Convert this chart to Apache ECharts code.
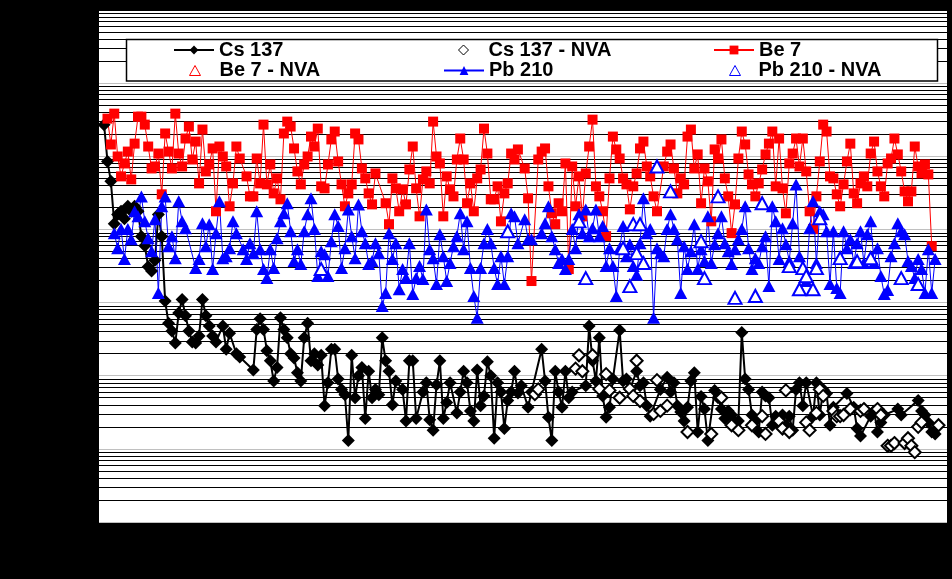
<!DOCTYPE html>
<html>
<head>
<meta charset="utf-8">
<script src="https://cdn.jsdelivr.net/npm/echarts@6/dist/echarts.min.js"></script>
<style>html,body{margin:0;padding:0;background:#000;}#c{width:952px;height:579px;}</style>
</head>
<body>
<div id="c"></div>
<script>
// Sample slots (shared category axis)
const categories = [];
for (let i = 1; i <= 250; i++) categories.push(String(i));

// Cs 137 (valid samples)
const cs137 = [
 null,2700,850,454,120,160,177,140,207,177,
 207,177,80,60,31,27,38,160,80,10.5,
 5.2,4.1,2.8,7.2,11,6.6,4.1,2.9,2.8,3.5,
 11,6.6,4.8,3.5,2.9,null,4.8,2.3,3.8,null,
 2.0,1.8,null,null,null,1.2,4.3,6.0,4.3,2.2,
 1.6,0.85,1.3,6.2,4.3,3.3,2.0,1.75,1.1,0.85,
 3.3,5.2,1.6,2.0,1.4,1.9,0.39,0.8,2.3,2.3,
 0.9,0.65,0.55,0.13,1.9,0.5,1.0,1.3,0.26,1.15,
 0.5,0.65,0.55,3.3,1.6,1.15,0.4,0.85,null,0.65,
 0.24,1.6,1.6,0.26,null,0.6,0.8,0.25,0.18,0.75,
 1.6,0.26,0.43,0.8,null,0.31,0.6,1.15,0.8,0.33,
 0.24,1.2,0.39,0.53,1.55,1.0,0.14,0.8,0.6,0.19,
 0.46,0.6,1.15,0.58,0.73,null,0.37,0.6,null,null,
 2.3,0.85,0.27,0.13,1.15,0.6,0.37,1.15,0.5,0.6,
 null,null,null,0.73,4.8,1.6,0.85,3.3,0.53,0.27,
 0.37,0.9,null,4.2,0.85,0.9,0.65,null,1.15,0.73,
 0.8,0.39,0.28,null,null,0.65,null,0.95,0.6,0.8,
 0.39,0.32,0.24,0.37,0.85,1.1,0.17,0.52,0.35,0.13,
 null,0.63,0.5,0.35,0.26,0.33,0.29,0.23,0.24,3.9,
 0.9,0.65,0.29,0.24,0.17,0.6,0.53,0.5,0.21,0.28,
 null,0.29,0.21,0.28,0.18,0.65,0.8,0.39,0.8,null,
 0.28,0.8,0.29,0.65,0.57,0.21,0.37,null,null,null,
 0.57,null,0.37,0.19,0.15,null,null,0.28,0.33,0.17,
 0.23,0.29,null,null,null,0.35,0.29,null,null,null,
 null,0.46,0.33,0.29,0.23,0.17,0.16,null,null,null
];

// Cs 137 - NVA (slot, value)
const cs137NvaSlot = [128,129,140,141,142,145,147,149,150,153,156,157,158,159,163,164,165,167,173,180,183,186,188,192,195,196,200,201,202,203,208,209,211,212,213,216,217,218,219,221,224,225,229,230,232,233,234,237,238,239,240,241,242,247];
const cs137NvaVal  = [0.56,0.65,1.25,1.9,1.15,1.9,0.66,1.05,0.63,0.5,0.66,0.53,1.6,0.45,0.3,0.87,0.33,0.39,0.17,0.16,0.5,0.21,0.18,0.21,0.28,0.16,0.24,0.19,0.63,0.17,0.23,0.18,0.31,0.65,0.53,0.33,0.28,0.28,0.29,0.35,0.33,0.35,0.35,0.29,0.11,0.11,0.12,0.12,0.14,0.11,0.09,0.2,0.23,0.21];

// Be 7
const be7 = [
 null,null,3270,1450,3830,994,531,798,1160,483,
 1490,3480,3480,2710,1360,682,726,1090,302,2050,
 1160,682,3830,1090,726,1750,2550,904,1590,426,
 2320,621,773,1280,177,1360,994,726,207,426,
 1360,933,null,531,283,283,933,426,2710,413,
 773,311,499,258,2050,2980,2550,1280,621,413,
 773,994,1860,1360,2390,388,364,773,1700,2180,
 849,413,207,311,413,2050,1700,682,499,311,
 220,583,null,null,228,118,499,364,177,353,
 220,661,1360,364,151,483,621,426,2980,994,
 798,151,531,353,283,904,1750,904,228,426,
 177,499,661,2390,1090,258,258,388,129,311,
 426,1090,904,1240,null,682,266,19.7,null,904,
 1160,1280,388,166,118,228,177,798,28.7,726,
 207,531,151,583,1360,3170,388,283,177,81,
 499,1860,1240,933,499,413,188,388,583,1280,
 1590,726,531,283,177,null,726,1160,1450,682,
 311,499,413,1860,2320,682,1060,228,682,454,
 129,1240,933,1700,499,283,89,220,933,2180,
 1450,565,413,283,426,661,1060,1490,2180,388,
 1750,364,166,798,1090,1750,726,1750,621,177,
 101,283,849,2710,2180,531,499,302,207,413,
 849,1490,311,228,426,531,388,1090,1590,621,
 388,283,798,933,1750,1060,621,331,242,331,
 1360,726,583,773,565,59,null,null,null,null
];

// Be 7 - NVA (no points in this period)
const be7NvaSlot = [];
const be7NvaVal = [];

// Pb 210
const pb210 = [
 null,null,null,null,88.7,55.4,101,39.3,101,73.5,
 177,151,283,129,75.8,50.5,138,13.5,207,283,
 59,80.8,40.5,242,129,104,null,null,29.6,39.3,
 121,59,118,28.7,88.7,242,40.5,43.1,55.4,129,
 88.7,null,53.7,39.3,64.9,47.4,177,53.7,28.7,21.6,
 53.7,29.6,75.8,129,166,228,94.5,36.9,53.7,33.6,
 94.5,161,266,101,23,50.5,45.9,23,69.1,161,
 111,29.6,55.4,188,80.8,40.5,220,94.5,64.9,33.6,
 36.9,64.9,47.4,9.0,13.5,88.7,39.3,64.9,15.2,28.7,
 21.6,64.9,13.1,21.6,31.5,21,188,53.7,40.5,17.9,
 86,43.1,19.7,34.7,59,80.8,166,53.7,129,29.6,
 12.3,6.2,29.6,64.9,101,64.9,29.6,17.9,43.1,17.9,
 43.1,166,151,64.9,null,138,73.5,73.5,null,null,
 88.7,121,207,80.8,53.7,34.7,39.3,28.7,39.3,101,
 55.4,161,88.7,188,80.8,104,188,80.8,111,31.5,
 55.4,31.5,12.3,55.4,111,43.1,62.8,31.5,24,64.9,
 266,88.7,101,6.2,55.4,47.4,43.1,101,161,101,
 73.5,13.5,59,28.7,50.5,118,28.7,53.7,36.9,151,
 34.7,62.8,88.7,151,64.9,50.5,33.6,53.7,73.5,101,
 207,55.4,28.7,40.5,34.7,59,80.8,16.8,207,129,
 39.3,104,62.8,36.9,121,413,43.1,null,19.7,104,
 242,34.7,177,161,94.5,17.9,94.5,15.8,13.5,94.5,
 55.4,73.5,34.7,64.9,94.5,34.7,86,129,34.7,55.4,
 23,13.1,14.8,43.1,64.9,121,94.5,86,36.9,31.5,
 21.6,39.3,28.7,13.5,53.7,13.5,39.3,null,null,null
];

// Pb 210 - NVA (slot, value)
const pb210NvaSlot = [65,120,141,143,154,156,157,158,159,160,164,168,177,178,182,187,193,195,203,206,207,208,210,211,212,218,223,227,236,241];
const pb210NvaVal  = [28.7,94.5,129,21.6,55.4,16.8,118,47.4,118,34.7,726,331,69.1,21.6,283,11.6,12.3,228,31.5,15.2,29.6,23,15.2,29.6,142,40.5,36.9,40.5,21.6,17.9];

const seriesNames = ['Cs 137','Cs 137 - NVA','Be 7','Be 7 - NVA','Pb 210','Pb 210 - NVA'];
const yMin = 0.01, yMax = 100000;

function pairs(slots, vals) { return slots.map((s, j) => [s, vals[j]]); }

// log-paper grid lines (1..9 x each decade)
const gridLines = [];
for (let e = -2; e <= 4; e++) {
  for (let m = 1; m <= 9; m++) {
    const v = m * Math.pow(10, e);
    gridLines.push({ yAxis: v, lineStyle: { color: m === 1 ? '#c0c0c0' : '#000', width: 1, type: 'solid' } });
  }
}
gridLines.push({ yAxis: yMax, lineStyle: { color: '#000', width: 1, type: 'solid' } });

const chart = echarts.init(document.getElementById('c'), null, { renderer: 'canvas' });
const font = 'Liberation Sans, Arial, sans-serif';
function legendAt(name, left, top, iw, ih, padLeft, iconStyle) {
  const l = {
    data: [name], left: left, top: top, padding: 0, orient: 'horizontal',
    itemWidth: iw, itemHeight: ih, itemGap: 0, selectedMode: false, z: 200,
    symbolKeepAspect: true,
    textStyle: { fontFamily: font, fontWeight: 'bold', fontSize: 20, color: '#000', lineHeight: 20,
                 padding: [0, 0, 0, padLeft] }
  };
  if (iconStyle) l.itemStyle = iconStyle;
  return l;
}

chart.setOption({
  animation: false,
  backgroundColor: '#000',
  grid: { left: 99, right: 5, top: 10, bottom: 57, show: true, backgroundColor: '#fff', borderWidth: 0 },
  xAxis: {
    type: 'category', data: categories, boundaryGap: true,
    axisLine: { show: false }, axisTick: { show: false }, axisLabel: { show: false }, splitLine: { show: false }
  },
  yAxis: {
    type: 'log', logBase: 10, min: yMin, max: yMax,
    axisLine: { show: false }, axisTick: { show: false }, axisLabel: { show: false }, splitLine: { show: false }
  },
  graphic: {
    elements: [{
      type: 'rect', z: 100, silent: true,
      shape: { x: 126.5, y: 39.5, width: 811, height: 41.5 },
      style: { fill: '#fff', stroke: '#000', lineWidth: 1.5 }
    }]
  },
  legend: [
    legendAt('Cs 137', 173, 40, 40, 11, 0),
    legendAt('Cs 137 - NVA', 458, 40, 10, 10, 15, { borderWidth: 1, opacity: 1 }),
    legendAt('Be 7', 713, 40, 40, 11, 0),
    legendAt('Be 7 - NVA', 189, 60.5, 11, 10, 14, { borderWidth: 1, opacity: 1 }),
    legendAt('Pb 210', 443, 60.5, 40, 11, 0),
    legendAt('Pb 210 - NVA', 729, 60.5, 11, 10, 13, { borderWidth: 1, opacity: 1 })
  ],
  series: [
    {
      name: 'grid', type: 'line', data: [], z: 0, silent: true,
      markLine: { silent: true, symbol: 'none', z: 0, animation: false, label: { show: false }, data: gridLines }
    },
    {
      name: seriesNames[0], type: 'line', data: cs137, connectNulls: true, showAllSymbol: true,
      symbol: 'diamond', symbolSize: 13, z: 3,
      lineStyle: { color: '#000', width: 2 }, itemStyle: { color: '#000' }, emphasis: { disabled: true }
    },
    {
      name: seriesNames[1], type: 'scatter', data: pairs(cs137NvaSlot, cs137NvaVal),
      symbol: 'diamond', symbolSize: 12, z: 4,
      itemStyle: { color: '#fff', borderColor: '#000', borderWidth: 2, opacity: 1 }, emphasis: { disabled: true }
    },
    {
      name: seriesNames[2], type: 'line', data: be7, connectNulls: true, showAllSymbol: true,
      symbol: 'rect', symbolSize: 10, z: 3,
      lineStyle: { color: '#ff0000', width: 1 }, itemStyle: { color: '#ff0000' }, emphasis: { disabled: true }
    },
    {
      name: seriesNames[3], type: 'scatter', data: pairs(be7NvaSlot, be7NvaVal),
      symbol: 'triangle', symbolSize: 11, z: 4,
      itemStyle: { color: '#fff', borderColor: '#ff0000', borderWidth: 1, opacity: 1 }, emphasis: { disabled: true }
    },
    {
      name: seriesNames[4], type: 'line', data: pb210, connectNulls: true, showAllSymbol: true,
      symbol: 'triangle', symbolSize: [13, 12], z: 3,
      lineStyle: { color: '#0000ff', width: 1 }, itemStyle: { color: '#0000ff' }, emphasis: { disabled: true }
    },
    {
      name: seriesNames[5], type: 'scatter', data: pairs(pb210NvaSlot, pb210NvaVal),
      symbol: 'triangle', symbolSize: [13, 12], z: 4,
      itemStyle: { color: '#fff', borderColor: '#0000ff', borderWidth: 2, opacity: 1 }, emphasis: { disabled: true }
    }
  ]
});
</script>
</body>
</html>
